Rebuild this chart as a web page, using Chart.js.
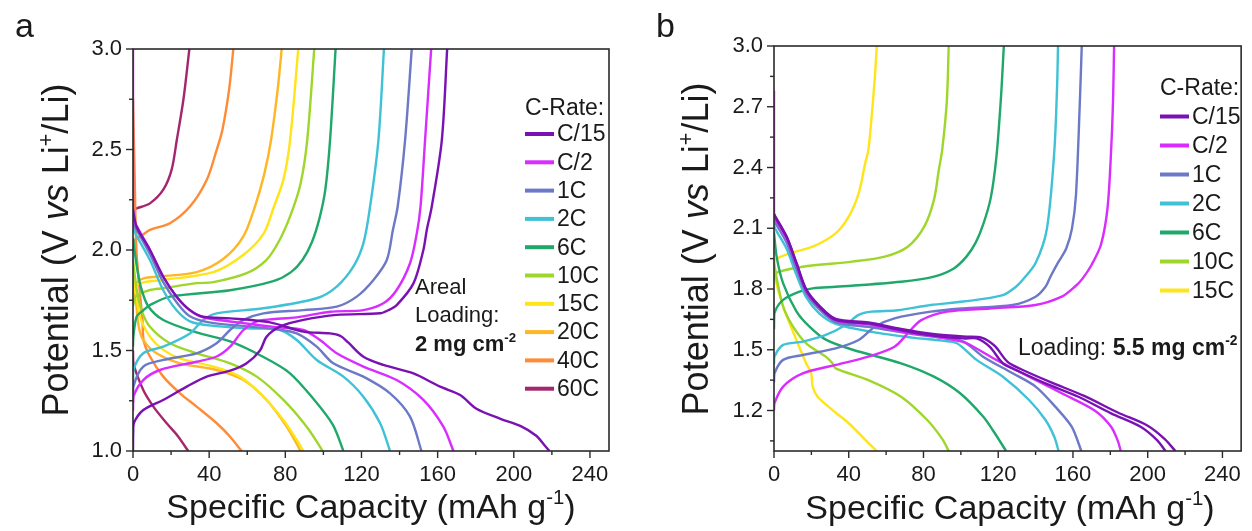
<!DOCTYPE html>
<html>
<head>
<meta charset="utf-8">
<script src="https://cdn.jsdelivr.net/npm/chart.js@4.4.0/dist/chart.umd.min.js"></script>
<style>
  body { margin: 0; background: #fff; }
  #wrap { position: relative; width: 1252px; height: 531px; font-family: "Liberation Sans", Arial, sans-serif; color: #1a1a1a; }
  canvas { position: absolute; top: 0; }
  .txt { position: absolute; white-space: nowrap; line-height: 1; }
  .panel { font-size: 34px; }
  .ytitle { font-size: 36px; transform: translate(-50%, -50%) rotate(-90deg); }
  .xtitle { font-size: 34px; transform: translateX(-50%); }
  .note { font-size: 22px; }
  sup { font-size: 0.6em; line-height: 0; vertical-align: 0.7em; }
</style>
</head>
<body>
<div id="wrap">
  <canvas id="chartA" width="625" height="531" style="left:0"></canvas>
  <canvas id="chartB" width="612" height="531" style="left:640px"></canvas>

  <div class="txt panel" style="left:15px;top:8px">a</div>
  <div class="txt panel" style="left:656px;top:8px">b</div>

  <div class="txt ytitle" style="left:56px;top:250px">Potential (V <i>vs</i> Li<sup>+</sup>/Li)</div>
  <div class="txt ytitle" style="left:696px;top:249px">Potential (V <i>vs</i> Li<sup>+</sup>/Li)</div>
  <div class="txt xtitle" style="left:371px;top:489px">Specific Capacity (mAh g<sup>-1</sup>)</div>
  <div class="txt xtitle" style="left:1010px;top:490px">Specific Capacity (mAh g<sup>-1</sup>)</div>

  <div class="txt note" style="left:415px;top:276px">Areal</div>
  <div class="txt note" style="left:415px;top:304px">Loading:</div>
  <div class="txt note" style="left:415px;top:333px"><b>2 mg cm<sup>-2</sup></b></div>
  <div class="txt note" style="left:1018px;top:336px;font-size:23px">Loading: <b>5.5 mg cm<sup>-2</sup></b></div>
</div>

<script>
// ---- panel a : 2 mg cm-2 ----  [capacity mAh/g, potential V]
const aC15dis = [[0,2.2],[1.9,2.116],[8.9,2.0],[15.9,1.867],[22.9,1.768],[29.9,1.701],[36.9,1.668],[51,1.66],[72,1.64],[89.5,1.594],[103.5,1.585],[109,1.572],[113,1.54],[121,1.469],[131.5,1.428],[147.3,1.386],[161.3,1.32],[171.8,1.279],[180.4,1.21],[193,1.16],[203.4,1.125],[211.8,1.076],[216,1.03],[218.7,1.0]];
const aC15chg = [[0,1.0],[0.1,1.09],[0.5,1.14],[5.4,1.204],[15.8,1.254],[28.2,1.32],[38.7,1.37],[51,1.40],[59.7,1.437],[66.7,1.50],[70.2,1.569],[77.2,1.619],[89.5,1.652],[107,1.677],[129.8,1.685],[134,1.70],[138.5,1.726],[147.3,1.834],[152.5,2.0],[154.3,2.1],[156.9,2.215],[162.2,2.547],[165,3.0]];
const aC2dis = [[0,3.0],[0,2.16],[1.9,2.12],[8.9,2.0],[15.9,1.867],[22.9,1.768],[29.9,1.70],[36.9,1.665],[55,1.64],[76,1.615],[89.5,1.602],[98.2,1.552],[107,1.486],[121,1.42],[138.5,1.353],[152.5,1.254],[163,1.121],[168.3,1.0]];
const aC2chg = [[0,1.2],[0.2,1.27],[5.4,1.353],[14.2,1.403],[33.4,1.444],[43.9,1.47],[51,1.519],[58,1.602],[65,1.645],[72,1.655],[86,1.665],[103.5,1.693],[121,1.701],[131.5,1.735],[138.5,1.801],[145.5,1.934],[149,2.08],[151,2.215],[153.4,2.547],[156.6,3.0]];
const a1Cdis = [[0,2.13],[1.9,2.1],[8.9,1.98],[15.9,1.84],[22.9,1.74],[29.9,1.67],[40,1.64],[60,1.62],[76,1.605],[86,1.585],[96.5,1.519],[105.2,1.436],[121,1.37],[135,1.287],[145.5,1.171],[151.5,1.0]];
const a1Cchg = [[0,1.24],[0.2,1.32],[5.4,1.42],[15.9,1.453],[33.4,1.486],[43.9,1.536],[51,1.602],[58,1.652],[68.5,1.685],[89.5,1.701],[107,1.718],[117.5,1.768],[126.3,1.851],[133.3,1.95],[136.5,2.1],[139,2.215],[142.9,2.547],[146.4,3.0]];
const a2Cdis = [[0,2.11],[1.9,2.07],[8.9,1.95],[15.9,1.80],[22.9,1.70],[29.9,1.645],[40,1.625],[60,1.61],[77.2,1.602],[86,1.552],[96.5,1.453],[110.5,1.37],[121,1.27],[129.8,1.138],[135,1.0]];
const a2Cchg = [[0,1.33],[0.2,1.403],[5.4,1.486],[15.9,1.519],[29.9,1.585],[36.9,1.652],[43.9,1.685],[68.5,1.71],[96.5,1.76],[107,1.818],[115.7,1.917],[121,2.033],[124.5,2.215],[128.9,2.547],[131.8,3.0]];
const a6Cdis = [[0,2.06],[1.5,1.95],[4,1.82],[8,1.72],[15.9,1.652],[33.4,1.59],[51,1.545],[68,1.47],[82,1.39],[94.7,1.26],[105,1.13],[110.5,1.0]];
const a6Cchg = [[0,1.52],[0.2,1.569],[1.9,1.668],[5.4,1.70],[8.9,1.726],[19.4,1.768],[51,1.80],[73.7,1.845],[83,1.89],[89,1.95],[94,2.04],[98,2.16],[101,2.3],[103.5,2.547],[106.4,3.0]];
const a10Cdis = [[0,1.95],[2,1.80],[4.5,1.70],[8.9,1.618],[19.4,1.536],[33.4,1.486],[51,1.436],[65,1.37],[79,1.254],[91.2,1.121],[98.2,1.022],[99.5,1.0]];
const a10Cchg = [[0,1.72],[1.5,1.77],[8.9,1.801],[15.9,1.81],[33.4,1.835],[42.2,1.84],[59.7,1.885],[70,1.95],[77,2.05],[83,2.18],[88,2.33],[91.5,2.547],[95.2,3.0]];
const a15Cdis = [[0,1.9],[1.5,1.8],[3.7,1.668],[8.9,1.569],[15.9,1.503],[24.7,1.461],[42.2,1.42],[56.2,1.37],[68.5,1.27],[79,1.154],[86,1.055],[89.5,1.0]];
const a15Cchg = [[0,1.78],[1.5,1.82],[6,1.84],[15.9,1.851],[42.2,1.89],[57.9,1.975],[68.5,2.08],[74,2.215],[79,2.35],[82.5,2.547],[86.8,3.0]];
const a20Cdis = [[0,1.85],[1.5,1.75],[3,1.62],[5.4,1.552],[12.4,1.486],[24.7,1.436],[44,1.403],[58,1.353],[70.2,1.254],[80.7,1.121],[88,1.0]];
const a20Cchg = [[0,1.8],[2,1.84],[6,1.86],[12.4,1.867],[33.4,1.89],[47.4,1.955],[57.9,2.066],[64,2.215],[69,2.38],[72.5,2.547],[76,2.8],[78.1,3.0]];
const a40Cdis = [[0,2.75],[0.8,2.4],[1.8,2.0],[3.5,1.8],[5,1.65],[5.6,1.55],[8.9,1.47],[15.9,1.37],[24.7,1.287],[33.4,1.221],[44,1.138],[51,1.071],[57,1.0]];
const a40Cchg = [[0,2.0],[1,2.05],[3.7,2.066],[8.9,2.10],[19.4,2.133],[29.9,2.216],[38.7,2.348],[43.9,2.497],[47,2.6],[50.5,2.8],[52.7,3.0]];
const a60Cdis = [[0,1.5],[0.2,1.436],[5.4,1.303],[10.7,1.221],[17.7,1.138],[23.5,1.075],[29,1.0]];
const a60Cchg = [[0,2.2],[1.9,2.207],[8.9,2.232],[15.9,2.30],[20.3,2.40],[23,2.547],[26.5,2.75],[29.6,3.0]];

// ---- panel b : 5.5 mg cm-2 ----
const bC15dis1 = [[0,2.17],[0.5,2.157],[6.7,2.058],[12,1.927],[17.2,1.795],[24.2,1.713],[33,1.647],[50.5,1.63],[68,1.597],[85,1.57],[101.4,1.556],[108.4,1.556],[115.4,1.515],[122.5,1.433],[129.5,1.4],[145.3,1.334],[162.9,1.268],[180.4,1.186],[196.2,1.12],[205,1.054],[209.5,1.0]];
const bC15dis2 = [[0,2.17],[6.7,2.06],[12,1.93],[17.2,1.80],[24.2,1.718],[33,1.652],[50.5,1.635],[68,1.603],[85,1.578],[103,1.565],[111,1.56],[118,1.52],[125,1.44],[132,1.405],[148,1.34],[166,1.272],[184,1.19],[200,1.125],[209,1.06],[214.8,1.0]];
const bC2dis = [[0,2.78],[0,2.16],[0.5,2.15],[6.7,2.05],[12,1.92],[17.2,1.79],[24.2,1.71],[33,1.645],[50.5,1.625],[68,1.59],[85.6,1.565],[98,1.545],[103.2,1.532],[119,1.45],[136.5,1.367],[154,1.285],[171.6,1.2],[180.4,1.12],[184,1.05],[185.6,1.0]];
const bC2chg = [[0,1.2],[0.2,1.235],[4.9,1.318],[15.4,1.383],[33,1.425],[50.5,1.466],[64.5,1.515],[71.6,1.581],[78.6,1.645],[92.6,1.688],[115.4,1.704],[140,1.721],[154,1.762],[161,1.811],[165,1.85],[170,1.92],[175,2.02],[178.5,2.2],[180.5,2.5],[181.5,2.75],[182,3.0]];
const b1Cdis = [[0,2.14],[0.5,2.13],[6.7,2.03],[12,1.9],[17.2,1.78],[24.2,1.7],[33,1.637],[53,1.61],[74,1.578],[90,1.56],[101.4,1.54],[111.9,1.466],[127.7,1.384],[140,1.318],[150.5,1.219],[159.3,1.12],[164.5,1.0]];
const b1Cchg = [[0,1.34],[0.2,1.383],[4.9,1.45],[15.4,1.474],[33,1.507],[45.3,1.548],[54,1.614],[64.5,1.655],[83.9,1.688],[101.4,1.704],[127.7,1.721],[140,1.762],[145.3,1.811],[148,1.862],[152,1.93],[156.4,2.0],[159.5,2.1],[161.6,2.262],[163.7,2.728],[164.7,3.0]];
const b2Cdis = [[0,2.12],[0.5,2.1],[6.7,2.0],[12,1.87],[17.2,1.76],[24.2,1.68],[33,1.628],[53,1.587],[74,1.56],[90,1.545],[97.9,1.532],[108.4,1.45],[122.5,1.367],[136.5,1.252],[145.3,1.153],[150,1.07],[152.3,1.0]];
const b2Cchg = [[0,1.43],[0.2,1.466],[4.9,1.524],[15.4,1.54],[27.7,1.573],[38.3,1.622],[45.3,1.672],[52.3,1.688],[66.3,1.695],[83.9,1.721],[101.4,1.738],[122.5,1.77],[129.5,1.811],[133,1.844],[140,1.928],[146,2.095],[150,2.478],[151.5,2.8],[152,3.0]];
const b6Cdis = [[0,2.08],[1.4,1.96],[4.9,1.828],[12,1.69],[19,1.614],[27.7,1.55],[42.1,1.5],[68,1.433],[85.6,1.367],[99.6,1.285],[111.9,1.17],[118,1.09],[124.2,1.0]];
const b6Cchg = [[0,1.6],[0.2,1.68],[4.9,1.746],[13.7,1.787],[20.7,1.803],[33,1.811],[68,1.836],[85.6,1.861],[96,1.90],[103,1.96],[108,2.03],[112,2.12],[116,2.25],[119,2.45],[121.5,2.75],[123,3.0]];
const b10Cdis = [[0,1.93],[1.5,1.85],[4.9,1.713],[10.2,1.614],[17.2,1.532],[27.7,1.466],[31.3,1.433],[33,1.408],[50.5,1.35],[68,1.268],[82,1.153],[90,1.06],[93.5,1.0]];
const b10Cchg = [[0,1.84],[0.5,1.877],[15.4,1.91],[41.8,1.935],[59.3,1.96],[71.6,2.009],[80.4,2.108],[85.6,2.24],[88.2,2.388],[90,2.486],[92.5,2.728],[93.5,3.0]];
const b15Cdis = [[0,1.93],[0.5,1.86],[4.9,1.713],[12,1.548],[17.2,1.433],[19.9,1.384],[20.7,1.318],[23.4,1.268],[31.3,1.202],[40,1.137],[49,1.054],[55,1.0]];
const b15Cchg = [[0,1.9],[0.5,1.943],[8.4,1.976],[20.7,2.009],[33,2.075],[40,2.157],[45.3,2.272],[48.8,2.421],[50.5,2.486],[52.2,2.645],[54,2.85],[55,3.0]];

// rates, colours, curves
const ratesA = ['C/15', 'C/2', '1C', '2C', '6C', '10C', '15C', '20C', '40C', '60C'];
const ratesB = ['C/15', 'C/2', '1C', '2C', '6C', '10C', '15C'];
const rateColors = {
    'C/15': '#7a12b3', 'C/2': '#d92cff', '1C': '#6b79c6', '2C': '#3fc1d6', '6C': '#1fa86a',
    '10C': '#9fd62c', '15C': '#ffe41a', '20C': '#ffb624', '40C': '#ff8b36', '60C': '#a3266f'
};
const curvesA = [[aC15dis, aC15chg], [aC2dis, aC2chg], [a1Cdis, a1Cchg], [a2Cdis, a2Cchg], [a6Cdis, a6Cchg],
                 [a10Cdis, a10Cchg], [a15Cdis, a15Cchg], [a20Cdis, a20Cchg], [a40Cdis, a40Cchg], [a60Cdis, a60Cchg]];
const curvesB = [[bC15dis1, bC15dis2], [bC2dis, bC2chg], [b1Cdis, b1Cchg], [b2Cdis, b2Cchg], [b6Cdis, b6Cchg],
                 [b10Cdis, b10Cchg], [b15Cdis, b15Cchg]];

// tick labels
const xTicks = [0, 40, 80, 120, 160, 200, 240];
const xMinor = [20, 60, 100, 140, 180, 220];
const aYTicks = [1.0, 1.5, 2.0, 2.5, 3.0];
const aYMinor = [1.25, 1.75, 2.25, 2.75];
const bYTicks = [1.2, 1.5, 1.8, 2.1, 2.4, 2.7, 3.0];
const bYMinor = [1.05, 1.35, 1.65, 1.95, 2.25, 2.55, 2.85];

const FONT = '"Liberation Sans", Arial, sans-serif';

// box + outward ticks
const framePlugin = {
    id: 'frame',
    afterDraw(chart, args, o) {
        const { ctx, chartArea: a, scales } = chart;
        const line = (x1, y1, x2, y2) => { ctx.beginPath(); ctx.moveTo(x1, y1); ctx.lineTo(x2, y2); ctx.stroke(); };
        ctx.save();
        ctx.strokeStyle = '#2a2a2a';
        ctx.lineWidth = 1.6;
        ctx.strokeRect(a.left, a.top, a.right - a.left, a.bottom - a.top);
        ctx.lineWidth = 1.4;
        o.xMajor.forEach(v => { const p = scales.x.getPixelForValue(v); line(p, a.bottom, p, a.bottom + 7); });
        o.xMinor.forEach(v => { const p = scales.x.getPixelForValue(v); line(p, a.bottom, p, a.bottom + 4); });
        o.yMajor.forEach(v => { const p = scales.y.getPixelForValue(v); line(a.left, p, a.left - 7, p); });
        o.yMinor.forEach(v => { const p = scales.y.getPixelForValue(v); line(a.left, p, a.left - 4, p); });
        ctx.restore();
    }
};

// legend inside the plot
const ratePlugin = {
    id: 'rateLegend',
    afterDraw(chart, args, o) {
        const ctx = chart.ctx;
        ctx.save();
        ctx.font = '23px ' + FONT;
        ctx.fillStyle = '#1a1a1a';
        ctx.textBaseline = 'alphabetic';
        ctx.fillText('C-Rate:', o.x, o.titleY);
        o.rates.forEach((r, i) => {
            const y = o.y0 + i * o.dy;
            ctx.strokeStyle = rateColors[r];
            ctx.lineWidth = 4;
            ctx.beginPath(); ctx.moveTo(o.x, y); ctx.lineTo(o.x + 29, y); ctx.stroke();
            ctx.textBaseline = 'middle';
            ctx.fillText(r, o.x + 32, y + 1);
        });
        ctx.restore();
    }
};

function buildDatasets(rates, curves) {
    const sets = [];
    rates.forEach((r, i) => {
        curves[i].forEach(c => {
            sets.push({
                label: r,
                data: c.map(p => ({ x: p[0], y: p[1] })),
                borderColor: rateColors[r],
                borderWidth: 2.4,
                pointRadius: 0,
                showLine: true,
                fill: false,
                tension: 0.3
            });
        });
    });
    return sets;
}

function makeChart(id, rates, curves, yTicks, yMinor, pad, yWidth, legend) {
    const ctx = document.getElementById(id).getContext('2d');
    return new Chart(ctx, {
        type: 'scatter',
        data: { datasets: buildDatasets(rates, curves) },
        options: {
            responsive: false,
            animation: false,
            layout: { padding: pad },
            plugins: {
                legend: { display: false },
                tooltip: { enabled: false },
                frame: { xMajor: xTicks, xMinor: xMinor, yMajor: yTicks, yMinor: yMinor },
                rateLegend: legend
            },
            scales: {
                x: {
                    type: 'linear', min: 0, max: 250,
                    grid: { display: false, drawTicks: false },
                    border: { display: false },
                    ticks: { font: { size: 22, family: FONT }, color: '#1a1a1a', padding: 11, autoSkip: false, maxRotation: 0 },
                    afterBuildTicks: s => { s.ticks = xTicks.map(v => ({ value: v })); },
                    afterFit: s => { s.height = 80; }
                },
                y: {
                    type: 'linear', min: 1.0, max: 3.0,
                    grid: { display: false, drawTicks: false },
                    border: { display: false },
                    ticks: { font: { size: 22, family: FONT }, color: '#1a1a1a', padding: 11, autoSkip: false,
                             callback: v => Number(v).toFixed(1) },
                    afterBuildTicks: s => { s.ticks = yTicks.map(v => ({ value: v })); },
                    afterFit: s => { s.width = yWidth; }
                }
            }
        },
        plugins: [framePlugin, ratePlugin]
    });
}

window.onload = () => {
    makeChart('chartA', ratesA, curvesA, aYTicks, aYMinor,
        { left: 0, top: 49, right: 16, bottom: 0 }, 133,
        { rates: ratesA, x: 525, titleY: 115, y0: 134, dy: 28.3 });
    makeChart('chartB', ratesB, curvesB, bYTicks, bYMinor,
        { left: 0, top: 46, right: 5, bottom: 0 }, 134,
        { rates: ratesB, x: 520, titleY: 95, y0: 116.5, dy: 29 });
};
</script>
</body>
</html>
